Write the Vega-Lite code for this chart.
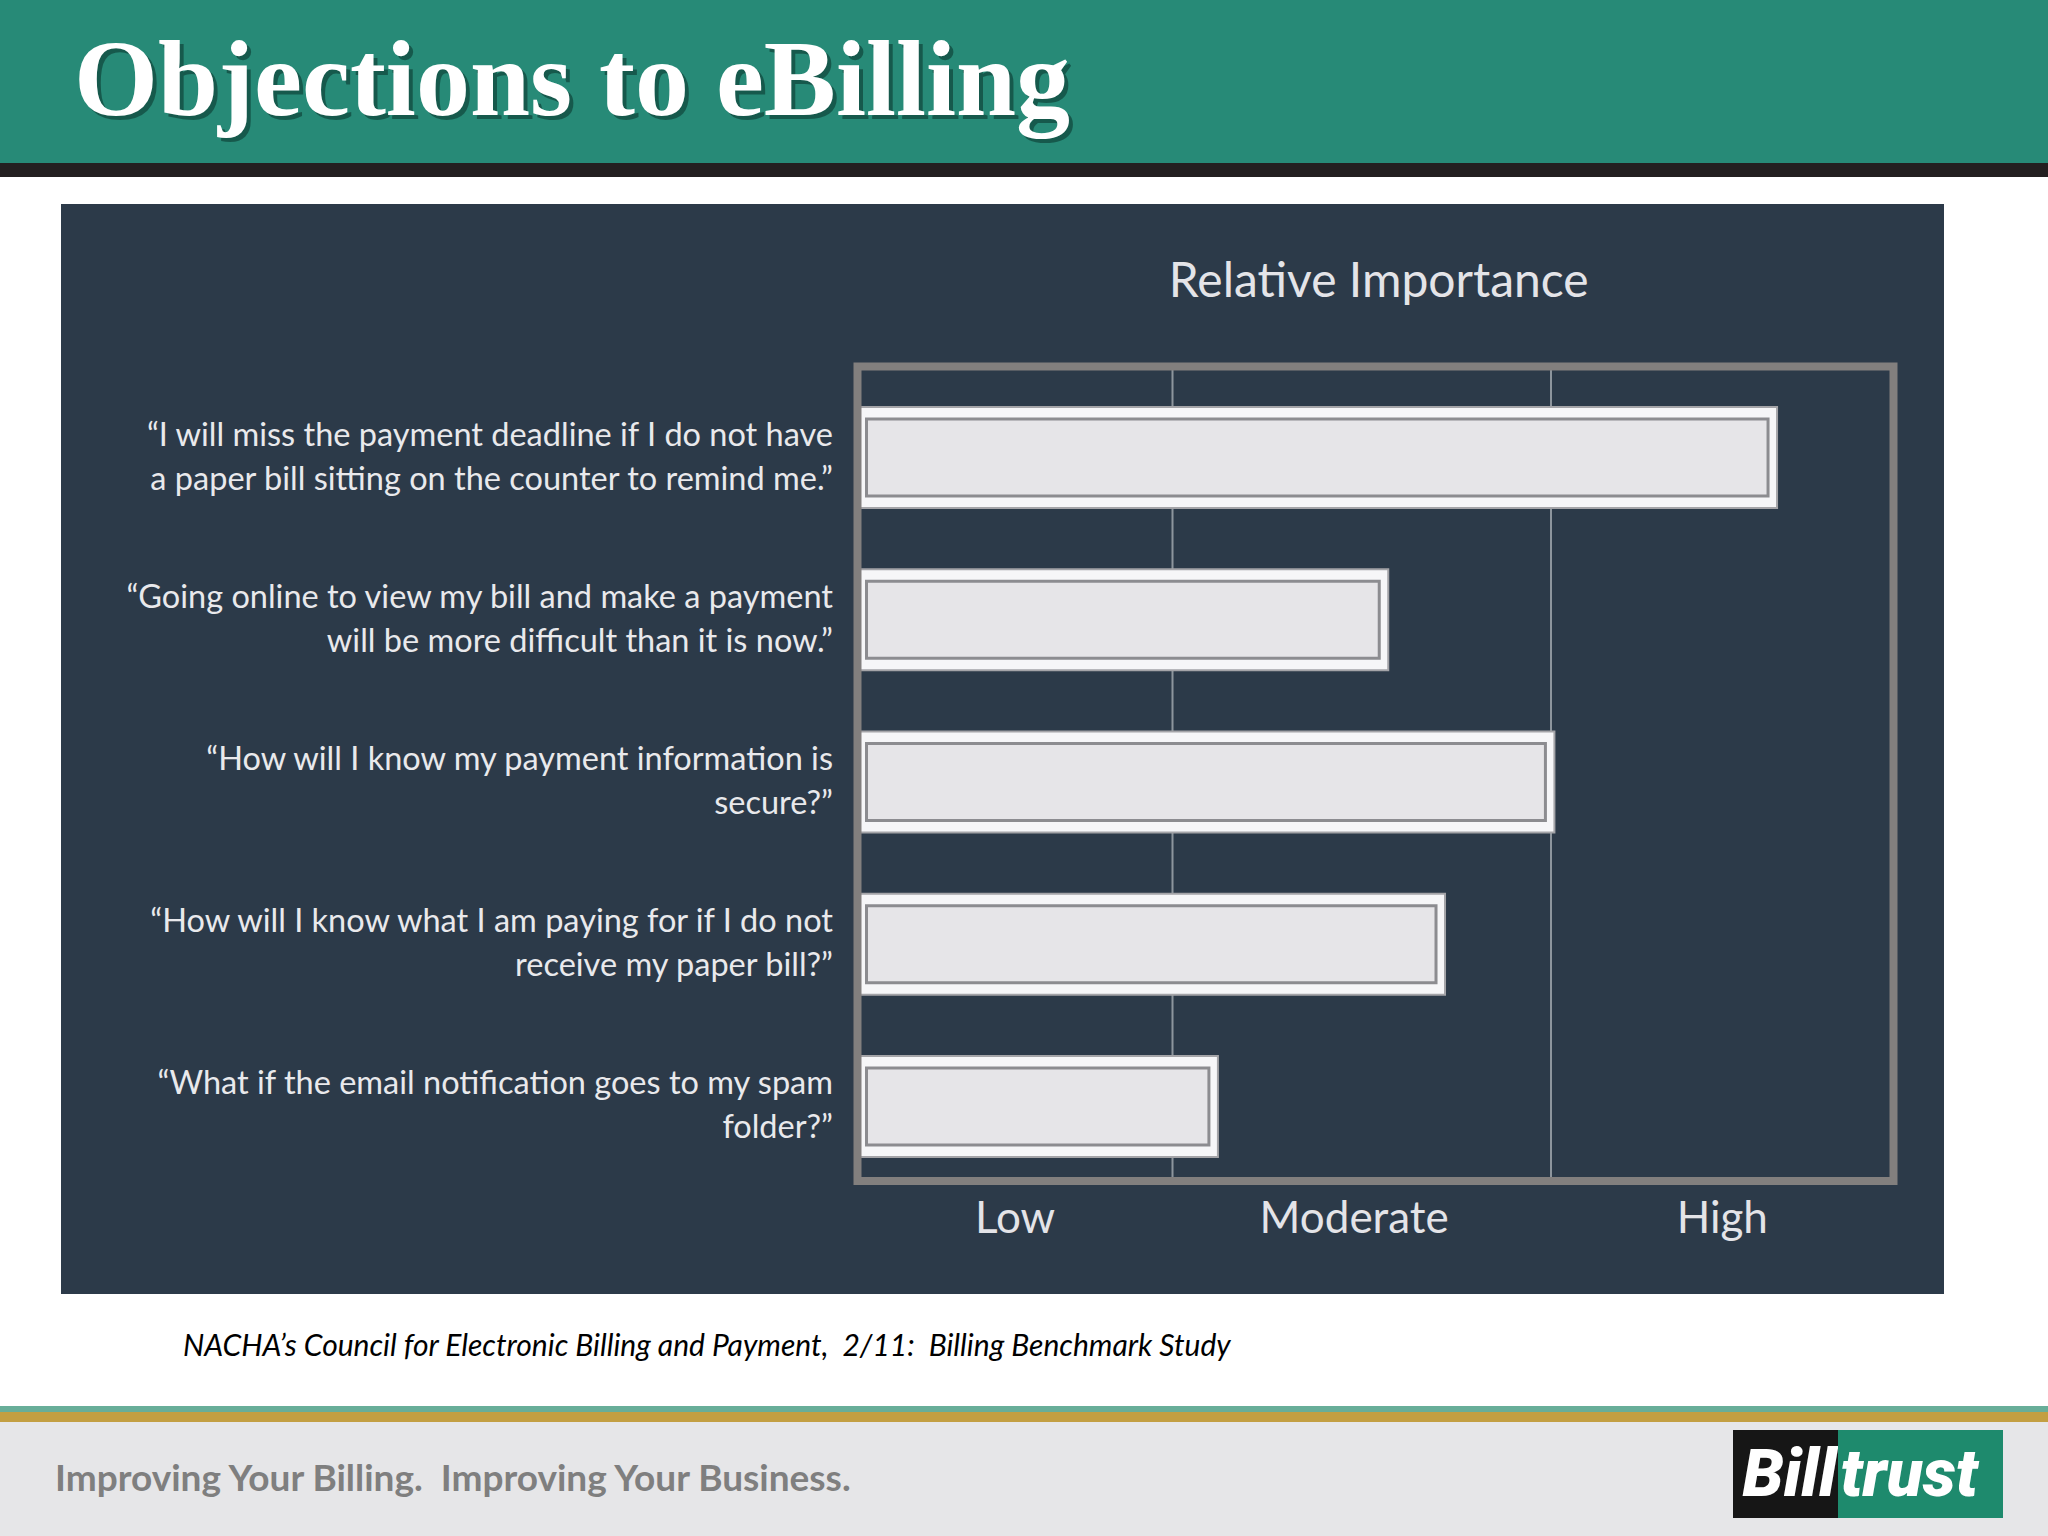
{
  "$schema": "https://vega.github.io/schema/vega-lite/v6.json",
  "padding": 0,
  "background": "#ffffff",
  "spacing": 0,
  "config": {"view": {"stroke": null}},
  "datasets": {
    "header": [{"title": "Objections to eBilling"}],
    "objections": [
      {"objection": "“I will miss the payment deadline if I do not have\na paper bill sitting on the counter to remind me.”", "importance": 2.66},
      {"objection": "“Going online to view my bill and make a payment\nwill be more difficult than it is now.”", "importance": 1.57},
      {"objection": "“How will I know my payment information is\nsecure?”", "importance": 2.01},
      {"objection": "“How will I know what I am paying for if I do not\nreceive my paper bill?”", "importance": 1.72},
      {"objection": "“What if the email notification goes to my spam\nfolder?”", "importance": 1.12}
    ],
    "boundaries": [{"boundary": 1}, {"boundary": 2}],
    "levels": [
      {"level": "Low", "center": 0.5},
      {"level": "Moderate", "center": 1.48},
      {"level": "High", "center": 2.5}
    ],
    "panel": [{"title": "Relative Importance"}],
    "source": [{"text": "NACHA’s Council for Electronic Billing and Payment, \u00a02/11: \u00a0Billing Benchmark Study"}],
    "tagline": [{"text": "Improving Your Billing. \u00a0Improving Your Business."}],
    "logo": [{"part": "Bill"}, {"part": "trust"}]
  },
  "vconcat": [
    {
      "width": 2048, "height": 163,
      "view": {"fill": "#278a77"},
      "data": {"name": "header"},
      "layer": [
        {"mark": {"type": "text", "align": "left", "baseline": "alphabetic", "dx": -946, "dy": 37.5, "font": "Liberation Serif", "fontWeight": "bold", "fontSize": 108, "color": "#0c3a31", "opacity": 0.6}, "encoding": {"text": {"field": "title"}}},
        {"mark": {"type": "text", "align": "left", "baseline": "alphabetic", "dx": -950, "dy": 33.5, "font": "Liberation Serif", "fontWeight": "bold", "fontSize": 108, "color": "#ffffff"}, "encoding": {"text": {"field": "title"}}}
      ]
    },
    {"width": 2048, "height": 14, "view": {"fill": "#231f20"}, "data": {"values": []}, "mark": "rect", "encoding": {}},
    {"width": 2048, "height": 27, "data": {"values": []}, "mark": "rect", "encoding": {}},
    {
      "spacing": 0,
      "hconcat": [
        {"width": 61, "height": 1090, "data": {"values": []}, "mark": "rect", "encoding": {}},
        {
          "width": 1883, "height": 1090,
          "view": {"fill": "#2c3a49"},
          "resolve": {"scale": {"y": "independent"}},
          "layer": [
            {
              "data": {"name": "boundaries"},
              "mark": {"type": "rule", "color": "#8d959d", "strokeWidth": 2},
              "encoding": {
                "x": {"field": "boundary", "type": "quantitative", "axis": null, "scale": {"domain": [0, 1, 2, 3], "range": [796.5, 1111.5, 1490, 1832.5], "nice": false, "zero": false}},
                "y": {"datum": 0, "type": "quantitative", "axis": null, "scale": {"domain": [0, 1], "range": [162.5, 977], "nice": false, "zero": false}},
                "y2": {"datum": 1}
              }
            },
            {
              "data": {"name": "objections"},
              "mark": {"type": "bar", "fill": "#f6f6f8", "stroke": "#a4a4a8", "strokeWidth": 2},
              "encoding": {
                "x": {"field": "importance", "type": "quantitative", "axis": null, "scale": {"domain": [0, 1, 2, 3], "range": [796.5, 1111.5, 1490, 1832.5], "nice": false, "zero": false}},
                "x2": {"datum": 0},
                "y": {"field": "objection", "type": "nominal", "sort": null, "axis": null, "scale": {"type": "band", "range": [203, 953], "paddingInner": 0.3775, "paddingOuter": 0}}
              }
            },
            {
              "data": {"name": "objections"},
              "mark": {"type": "bar", "height": {"band": 0.76}, "fill": "#e6e5e8", "stroke": "#8c8c90", "strokeWidth": 3, "xOffset": -9, "x2Offset": 9},
              "encoding": {
                "x": {"field": "importance", "type": "quantitative", "axis": null, "scale": {"domain": [0, 1, 2, 3], "range": [796.5, 1111.5, 1490, 1832.5], "nice": false, "zero": false}},
                "x2": {"datum": 0},
                "y": {"field": "objection", "type": "nominal", "sort": null, "axis": null, "scale": {"type": "band", "range": [203, 953], "paddingInner": 0.3775, "paddingOuter": 0}}
              }
            },
            {
              "data": {"name": "panel"},
              "mark": {"type": "rect", "filled": false, "stroke": "#827f7e", "strokeWidth": 8},
              "encoding": {
                "x": {"datum": 0, "type": "quantitative", "axis": null, "scale": {"domain": [0, 1, 2, 3], "range": [796.5, 1111.5, 1490, 1832.5], "nice": false, "zero": false}},
                "x2": {"datum": 3},
                "y": {"datum": 0, "type": "quantitative", "axis": null, "scale": {"domain": [0, 1], "range": [162.5, 977], "nice": false, "zero": false}},
                "y2": {"datum": 1}
              }
            },
            {
              "data": {"name": "objections"},
              "mark": {"type": "text", "align": "right", "baseline": "middle", "dx": -24.5, "dy": -22, "font": "Lato", "fontSize": 32.5, "lineHeight": 44, "lineBreak": "\n", "color": "#e9e9ec"},
              "encoding": {
                "x": {"datum": 0, "type": "quantitative", "axis": null, "scale": {"domain": [0, 1, 2, 3], "range": [796.5, 1111.5, 1490, 1832.5], "nice": false, "zero": false}},
                "y": {"field": "objection", "type": "nominal", "sort": null, "axis": null, "scale": {"type": "band", "range": [203, 953], "paddingInner": 0.3775, "paddingOuter": 0}},
                "text": {"field": "objection"}
              }
            },
            {
              "data": {"name": "levels"},
              "mark": {"type": "text", "align": "center", "baseline": "middle", "dy": 39, "font": "Lato", "fontSize": 44, "color": "#e4e4e8"},
              "encoding": {
                "x": {"field": "center", "type": "quantitative", "axis": null, "scale": {"domain": [0, 1, 2, 3], "range": [796.5, 1111.5, 1490, 1832.5], "nice": false, "zero": false}},
                "y": {"datum": 1, "type": "quantitative", "axis": null, "scale": {"domain": [0, 1], "range": [162.5, 977], "nice": false, "zero": false}},
                "text": {"field": "level"}
              }
            },
            {
              "data": {"name": "panel"},
              "mark": {"type": "text", "align": "center", "baseline": "middle", "dx": 17, "dy": -83.5, "font": "Lato", "fontSize": 48, "color": "#e4e4e8"},
              "encoding": {
                "x": {"datum": 1.5, "type": "quantitative", "axis": null, "scale": {"domain": [0, 1, 2, 3], "range": [796.5, 1111.5, 1490, 1832.5], "nice": false, "zero": false}},
                "y": {"datum": 0, "type": "quantitative", "axis": null, "scale": {"domain": [0, 1], "range": [162.5, 977], "nice": false, "zero": false}},
                "text": {"field": "title"}
              }
            }
          ]
        },
        {"width": 104, "height": 1090, "data": {"values": []}, "mark": "rect", "encoding": {}}
      ]
    },
    {
      "width": 2048, "height": 112,
      "data": {"name": "source"},
      "mark": {"type": "text", "align": "left", "baseline": "middle", "dx": -841, "dy": -3, "font": "Lato", "fontStyle": "italic", "fontSize": 30, "color": "#000000"},
      "encoding": {"text": {"field": "text"}}
    },
    {"width": 2048, "height": 6, "view": {"fill": "#68ae99"}, "data": {"values": []}, "mark": "rect", "encoding": {}},
    {"width": 2048, "height": 10, "view": {"fill": "#c39f42"}, "data": {"values": []}, "mark": "rect", "encoding": {}},
    {
      "spacing": 0,
      "hconcat": [
        {
          "width": 1733, "height": 114,
          "view": {"fill": "#e6e6e8"},
          "data": {"name": "tagline"},
          "mark": {"type": "text", "align": "left", "baseline": "middle", "dx": -811.5, "dy": 1, "font": "Lato", "fontWeight": "bold", "fontSize": 37, "color": "#7f7f7f"},
          "encoding": {"text": {"field": "text"}}
        },
        {
          "spacing": 0,
          "vconcat": [
            {"width": 270, "height": 8, "view": {"fill": "#e6e6e8"}, "data": {"values": []}, "mark": "rect", "encoding": {}},
            {
              "spacing": 0,
              "hconcat": [
                {
                  "width": 105, "height": 88,
                  "view": {"fill": "#161616"},
                  "data": {"name": "logo"},
                  "transform": [{"filter": "datum.part === 'Bill'"}],
                  "mark": {"type": "text", "align": "right", "baseline": "middle", "dx": 51, "dy": 2, "font": "Roboto", "fontWeight": 900, "fontStyle": "italic", "fontSize": 66, "color": "#ffffff"},
                  "encoding": {"text": {"field": "part"}}
                },
                {
                  "width": 165, "height": 88,
                  "view": {"fill": "#1e8a6d"},
                  "data": {"name": "logo"},
                  "transform": [{"filter": "datum.part === 'trust'"}],
                  "mark": {"type": "text", "align": "left", "baseline": "middle", "dx": -80, "dy": 2, "font": "Roboto", "fontWeight": 900, "fontStyle": "italic", "fontSize": 66, "color": "#ffffff"},
                  "encoding": {"text": {"field": "part"}}
                }
              ]
            },
            {"width": 270, "height": 18, "view": {"fill": "#e6e6e8"}, "data": {"values": []}, "mark": "rect", "encoding": {}}
          ]
        },
        {"width": 45, "height": 114, "view": {"fill": "#e6e6e8"}, "data": {"values": []}, "mark": "rect", "encoding": {}}
      ]
    }
  ]
}
